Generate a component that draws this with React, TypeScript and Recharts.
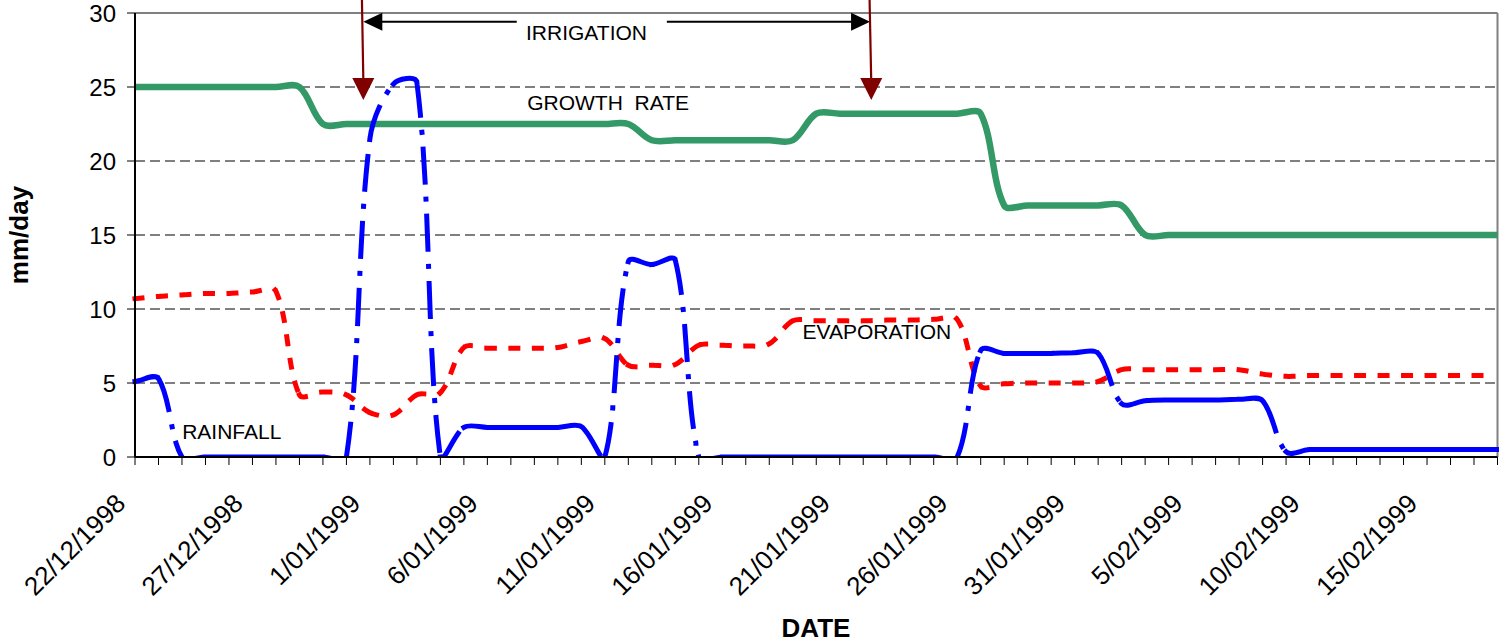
import React from 'react';
import { LineChart, Line, XAxis, YAxis, CartesianGrid, ReferenceLine, ReferenceDot } from 'recharts';

// one entry per day, 22/12/1998 .. 18/02/1999
const dates = [
  '22/12/1998', '23/12/1998', '24/12/1998', '25/12/1998', '26/12/1998', '27/12/1998', '28/12/1998',
  '29/12/1998', '30/12/1998', '31/12/1998', '1/01/1999', '2/01/1999', '3/01/1999', '4/01/1999',
  '5/01/1999', '6/01/1999', '7/01/1999', '8/01/1999', '9/01/1999', '10/01/1999', '11/01/1999',
  '12/01/1999', '13/01/1999', '14/01/1999', '15/01/1999', '16/01/1999', '17/01/1999', '18/01/1999',
  '19/01/1999', '20/01/1999', '21/01/1999', '22/01/1999', '23/01/1999', '24/01/1999', '25/01/1999',
  '26/01/1999', '27/01/1999', '28/01/1999', '29/01/1999', '30/01/1999', '31/01/1999', '1/02/1999',
  '2/02/1999', '3/02/1999', '4/02/1999', '5/02/1999', '6/02/1999', '7/02/1999', '8/02/1999',
  '9/02/1999', '10/02/1999', '11/02/1999', '12/02/1999', '13/02/1999', '14/02/1999', '15/02/1999',
  '16/02/1999', '17/02/1999', '18/02/1999',
];

const growthRate = [
  25, 25, 25, 25, 25, 25, 25, 25,
  22.5, 22.5, 22.5, 22.5, 22.5, 22.5, 22.5, 22.5, 22.5, 22.5, 22.5, 22.5, 22.5, 22.5,
  21.4, 21.4, 21.4, 21.4, 21.4, 21.4, 21.4,
  23.2, 23.2, 23.2, 23.2, 23.2, 23.2, 23.2, 23.2,
  17, 17, 17, 17, 17, 17,
  15, 15, 15, 15, 15, 15, 15, 15, 15, 15, 15, 15, 15, 15, 15, 15,
];

const evaporation = [
  10.7, 10.85, 10.95, 11.05, 11.05, 11.15, 11.2, 4.2, 4.4, 4.2,
  3.0, 2.85, 4.2, 4.35, 7.4, 7.35, 7.35, 7.35, 7.4, 7.8,
  8.0, 6.2, 6.2, 6.25, 7.55, 7.55, 7.5, 7.65, 9.2, 9.2,
  9.2, 9.2, 9.25, 9.25, 9.3, 9.3, 4.8, 4.95, 5.0, 5.0,
  5.0, 5.1, 5.9, 5.9, 5.9, 5.9, 5.9, 5.9, 5.6, 5.45,
  5.5, 5.5, 5.5, 5.5, 5.5, 5.5, 5.5, 5.5, 5.5,
];

const rainfall = [
  5.1, 5.3, 0, 0, 0, 0, 0, 0, 0, 0,
  21.5, 25.2, 25.3, 0, 2.0, 2.0, 2.0, 2.0, 2.0, 2.05,
  0, 13.2, 13.0, 13.3, 0, 0, 0, 0, 0, 0,
  0, 0, 0, 0, 0, 0, 7.2, 7.0, 7.0, 7.0,
  7.05, 7.0, 3.6, 3.8, 3.85, 3.85, 3.85, 3.9, 3.8, 0.35,
  0.5, 0.5, 0.5, 0.5, 0.5, 0.5, 0.5, 0.5, 0.5,
];

const yTicks = [0, 5, 10, 15, 20, 25, 30];
const dayTicks = dates.map((_, i) => i);
const LABEL_EVERY = 5;

const data = dates.map((date, i) => ({
  day: i,
  date,
  growth: growthRate[i],
  evap: evaporation[i],
  rain: rainfall[i],
}));

const FONT = '"Liberation Sans", Arial, sans-serif';

// Excel-style smoothed line (bezier through each point, tangents weighted by segment length).
// With split=true each day segment is its own subpath so the dash pattern restarts per point, like Excel does.
const excelSmooth = (split: boolean) => (context: any) => {
  let px: number[] = [];
  let py: number[] = [];
  return {
    areaStart() {},
    areaEnd() {},
    lineStart() {
      px = [];
      py = [];
    },
    point(x: number, y: number) {
      px.push(+x);
      py.push(+y);
    },
    lineEnd() {
      const n = px.length;
      if (!n) return;
      context.moveTo(px[0], py[0]);
      if (n === 1) return;
      const dist = (a: number, b: number) => Math.hypot(px[b] - px[a], py[b] - py[a]);
      for (let i = 0; i < n - 1; i++) {
        const a = Math.max(i - 1, 0);
        const b = Math.min(i + 2, n - 1);
        const d01 = dist(a, i);
        const d12 = dist(i, i + 1);
        const d23 = dist(i + 1, b);
        const f1 = d01 + d12 > 0 ? d12 / (d01 + d12) / 3 : 0;
        const f2 = d12 + d23 > 0 ? d12 / (d12 + d23) / 3 : 0;
        const c1x = px[i] + (px[i + 1] - px[a]) * f1;
        const c1y = py[i] + (py[i + 1] - py[a]) * f1;
        const c2x = px[i + 1] - (px[b] - px[i]) * f2;
        const c2y = py[i + 1] - (py[b] - py[i]) * f2;
        if (split && i > 0) context.moveTo(px[i], py[i]);
        context.bezierCurveTo(c1x, c1y, c2x, c2y, px[i + 1], py[i + 1]);
      }
    },
  };
};

const DateTick = (props: any) => {
  const { x, y, payload } = props;
  if (payload.value % LABEL_EVERY !== 0) return null;
  const tx = x - 8;
  const ty = y + 38;
  return (
    <text x={tx} y={ty} transform={`rotate(-45, ${tx}, ${ty})`} textAnchor="end" fontSize={26} fill="#000">
      {dates[payload.value]}
    </text>
  );
};

const DownArrow = (p: any) => {
  const { x1, y1, x2, y2 } = p;
  return (
    <g>
      <line x1={x1} y1={y1} x2={x2} y2={y2 - 20} stroke="#800000" strokeWidth={2.2} />
      <polygon points={`${x2 - 11},${y2 - 22} ${x2 + 11},${y2 - 22} ${x2},${y2}`} fill="#800000" />
    </g>
  );
};

const LeftHead = (p: any) => {
  const { x1, y1, x2, y2 } = p;
  return (
    <g>
      <line x1={x1 + 15} y1={y1} x2={x2} y2={y2} stroke="#000" strokeWidth={2} />
      <polygon points={`${x1},${y1} ${x1 + 19},${y1 - 9} ${x1 + 19},${y1 + 9}`} fill="#000" />
    </g>
  );
};

const RightHead = (p: any) => {
  const { x1, y1, x2, y2 } = p;
  return (
    <g>
      <line x1={x1} y1={y1} x2={x2 - 15} y2={y2} stroke="#000" strokeWidth={2} />
      <polygon points={`${x2},${y2} ${x2 - 19},${y2 - 9} ${x2 - 19},${y2 + 9}`} fill="#000" />
    </g>
  );
};

const note = (text: string) => (p: any) => (
  <text
    x={p.cx}
    y={p.cy}
    textAnchor="middle"
    dominantBaseline="central"
    fontSize={21}
    fill="#000"
    style={{ whiteSpace: 'pre' }}
  >
    {text}
  </text>
);

export default function App() {
  return (
    <div style={{ width: 1499, height: 643, fontFamily: FONT }}>
      <style>{'body{margin:0}'}</style>
      <LineChart width={1499} height={643} data={data} margin={{ top: 13, right: 1.5, left: 0, bottom: 0 }}>
        <CartesianGrid vertical={false} stroke="#000" strokeDasharray="10 5" />
        <XAxis
          dataKey="day"
          type="number"
          domain={[0, 58]}
          ticks={dayTicks}
          interval={0}
          height={186}
          tickSize={8}
          tickMargin={2}
          axisLine={{ stroke: '#000', strokeWidth: 2 }}
          tickLine={{ stroke: '#000' }}
          tick={<DateTick />}
        />
        <YAxis
          domain={[0, 30]}
          ticks={yTicks}
          allowDataOverflow
          width={135}
          tickSize={8}
          tickMargin={11}
          axisLine={{ stroke: '#000', strokeWidth: 2 }}
          tickLine={{ stroke: '#000' }}
          tick={{ fill: '#000', fontSize: 24 }}
        />
        <ReferenceLine y={30} stroke="#808080" strokeWidth={2} />
        <ReferenceLine x={58} stroke="#808080" strokeWidth={2} />

        <Line
          dataKey="growth"
          type={excelSmooth(false) as any}
          stroke="#339966"
          strokeWidth={6.5}
          strokeLinejoin="round"
          dot={false}
          activeDot={false}
          isAnimationActive={false}
        />
        <Line
          dataKey="evap"
          type={excelSmooth(true) as any}
          stroke="#ff0000"
          strokeWidth={5}
          strokeDasharray="7 16.5"
          strokeLinecap="square"
          dot={false}
          activeDot={false}
          isAnimationActive={false}
        />
        <Line
          dataKey="rain"
          type={excelSmooth(true) as any}
          stroke="#0000ff"
          strokeWidth={5}
          strokeDasharray="33 17 0.1 17"
          strokeLinecap="square"
          dot={false}
          activeDot={false}
          isAnimationActive={false}
        />

        <ReferenceLine segment={[{ x: 9.66, y: 30.9 }, { x: 9.72, y: 24.12 }]} ifOverflow="visible" shape={DownArrow} />
        <ReferenceLine segment={[{ x: 31.27, y: 30.9 }, { x: 31.34, y: 24.12 }]} ifOverflow="visible" shape={DownArrow} />
        <ReferenceLine segment={[{ x: 9.72, y: 29.41 }, { x: 16.25, y: 29.41 }]} ifOverflow="visible" shape={LeftHead} />
        <ReferenceLine segment={[{ x: 22.64, y: 29.41 }, { x: 31.29, y: 29.41 }]} ifOverflow="visible" shape={RightHead} />

        <ReferenceDot x={19.22} y={28.68} ifOverflow="visible" shape={note('IRRIGATION')} />
        <ReferenceDot x={20.14} y={23.95} ifOverflow="visible" shape={note('GROWTH  RATE')} />
        <ReferenceDot x={31.58} y={8.46} ifOverflow="visible" shape={note('EVAPORATION')} />
        <ReferenceDot x={4.12} y={1.7} ifOverflow="visible" shape={note('RAINFALL')} />

        <text x={27.5} y={235} transform="rotate(-90, 27.5, 235)" textAnchor="middle" fontSize={26} fontWeight="bold" fill="#000">
          mm/day
        </text>
        <text x={816} y={636.5} textAnchor="middle" fontSize={26} fontWeight="bold" fill="#000">
          DATE
        </text>
      </LineChart>
    </div>
  );
}
